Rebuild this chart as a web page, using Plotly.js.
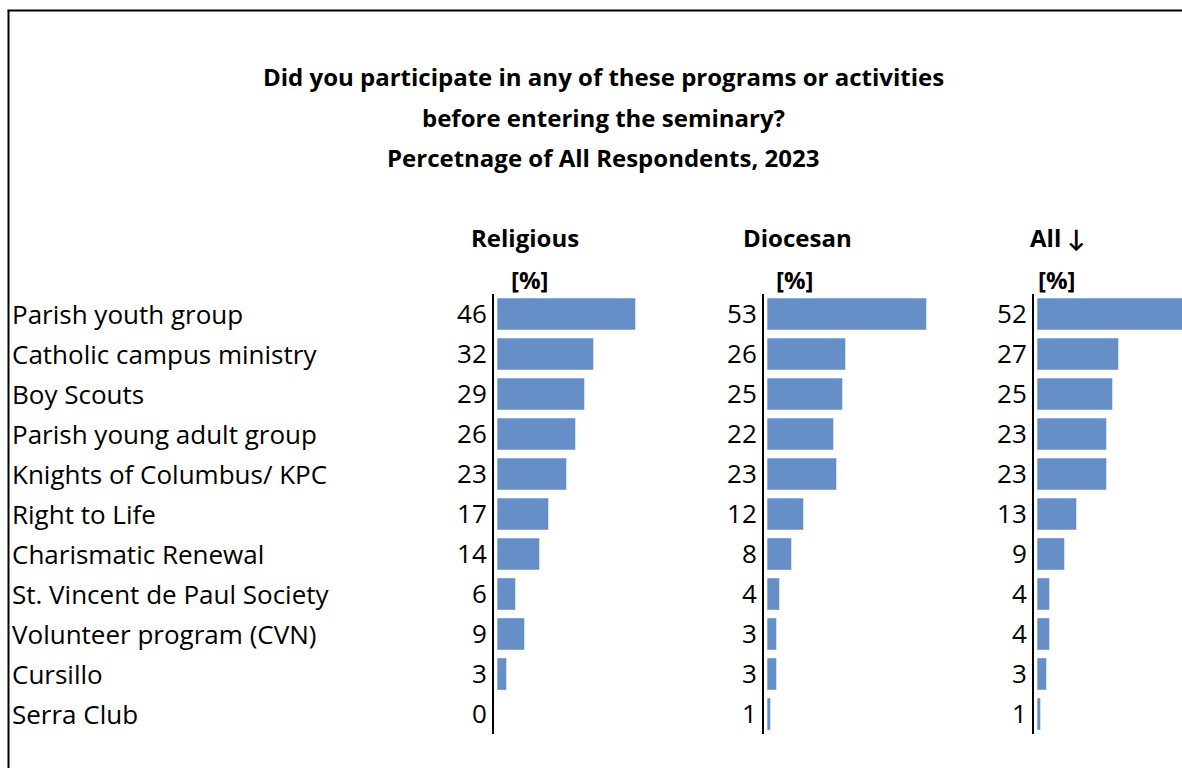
<!DOCTYPE html>
<html>
<head>
<meta charset="utf-8">
<script src="https://cdn.plot.ly/plotly-3.0.1.min.js"></script>
<style>
  html, body { margin: 0; padding: 0; background: #ffffff; }
  #chart { width: 1182px; height: 768px; }
</style>
</head>
<body>
<div id="chart"></div>
<script>
// ---- data ----
const categories = [
  "Parish youth group",
  "Catholic campus ministry",
  "Boy Scouts",
  "Parish young adult group",
  "Knights of Columbus/ KPC",
  "Right to Life",
  "Charismatic Renewal",
  "St. Vincent de Paul Society",
  "Volunteer program (CVN)",
  "Cursillo",
  "Serra Club"
];
const religious = [46, 32, 29, 26, 23, 17, 14, 6, 9, 3, 0];
const diocesan  = [53, 26, 25, 22, 23, 12, 8, 4, 3, 3, 1];
const allResp   = [52, 27, 25, 23, 23, 13, 9, 4, 4, 3, 1];
const panelTitles = ["Religious", "Diocesan", "All \u2193"];
const unitLabel = "[%]";
const titleLines = [
  "Did you participate in any of these programs or activities",
  "before entering the seminary?",
  "Percetnage of All Respondents, 2023"
];

// ---- layout helpers ----
const W = 1182, H = 768;
const px = v => v / W;
const py = v => 1 - v / H;
const FONT = "'Open Sans', Lato, sans-serif";
const FS = 26;     // regular labels
const FB = 24;     // bold headings
const barColor = "#658FC6";
const pxPerUnit = 3.0;

const series = [religious, diocesan, allResp];
const axisX = [494, 764, 1034];         // pixel x of each value axis line
const panelRight = [760, 1030, 1182];
const headerX = [525, 797, 1057];
const unitX = [530, 795, 1057];

const idx = categories.map((_, i) => i);
const traces = [];
const layout = {
  width: W, height: H,
  margin: {l: 0, r: 0, t: 0, b: 0},
  paper_bgcolor: "#ffffff",
  plot_bgcolor: "rgba(0,0,0,0)",
  showlegend: false,
  bargap: 0.21,
  font: {family: FONT, size: FS, color: "#000000"},
  annotations: [],
  shapes: []
};

series.forEach((vals, p) => {
  const n = p === 0 ? "" : String(p + 1);
  traces.push({
    type: "bar",
    orientation: "h",
    x: vals,
    y: idx,
    xaxis: "x" + n,
    yaxis: "y" + n,
    marker: {color: barColor, line: {width: 0}},
    hoverinfo: "skip"
  });
  const left = axisX[p], right = panelRight[p];
  const off = 1.1;
  layout["xaxis" + n] = {
    domain: [px(left), px(right)],
    range: [-off, -off + (right - left) / pxPerUnit],
    visible: false,
    fixedrange: true,
    anchor: "y" + n
  };
  layout["yaxis" + n] = {
    domain: [py(734), py(294)],
    range: [categories.length - 0.5, -0.5],
    anchor: "x" + n,
    tickmode: "array",
    tickvals: idx,
    ticktext: vals.map(v => String(v)),
    ticks: "",
    ticklabelstandoff: 0,
    tickfont: {family: FONT, size: FS, color: "#000000"},
    showline: true,
    linecolor: "#000000",
    linewidth: 2,
    showgrid: false,
    zeroline: false,
    fixedrange: true
  };
  layout.annotations.push({
    xref: "paper", yref: "paper",
    x: px(headerX[p]), y: py(238),
    xanchor: "center", yanchor: "middle",
    text: "<b>" + panelTitles[p] + "</b>",
    showarrow: false,
    font: {family: FONT, size: FB, color: "#000000"}
  });
  layout.annotations.push({
    xref: "paper", yref: "paper",
    x: px(unitX[p]), y: py(279),
    xanchor: "center", yanchor: "middle",
    text: "<b>" + unitLabel + "</b>",
    showarrow: false,
    font: {family: FONT, size: FB, color: "#000000"}
  });
});

// category labels
categories.forEach((c, i) => {
  layout.annotations.push({
    xref: "paper", yref: "y",
    x: px(10), y: i,
    xanchor: "left", yanchor: "middle",
    text: c,
    showarrow: false,
    font: {family: FONT, size: FS, color: "#000000"}
  });
});

// title lines
titleLines.forEach((t, i) => {
  layout.annotations.push({
    xref: "paper", yref: "paper",
    x: px(603), y: py(77 + 40 * i),
    xanchor: "center", yanchor: "middle",
    text: "<b>" + t + "</b>",
    showarrow: false,
    font: {family: FONT, size: FB, color: "#000000"}
  });
});

// outer frame (left + top edges visible)
layout.shapes.push({type: "line", xref: "paper", yref: "paper",
  x0: px(8.5), x1: px(8.5), y0: -0.02, y1: py(10.5), line: {color: "#000000", width: 2}});
layout.shapes.push({type: "line", xref: "paper", yref: "paper",
  x0: px(7.5), x1: 1.02, y0: py(10.5), y1: py(10.5), line: {color: "#000000", width: 2}});

Plotly.newPlot("chart", traces, layout, {displayModeBar: false, staticPlot: true});
</script>
</body>
</html>
